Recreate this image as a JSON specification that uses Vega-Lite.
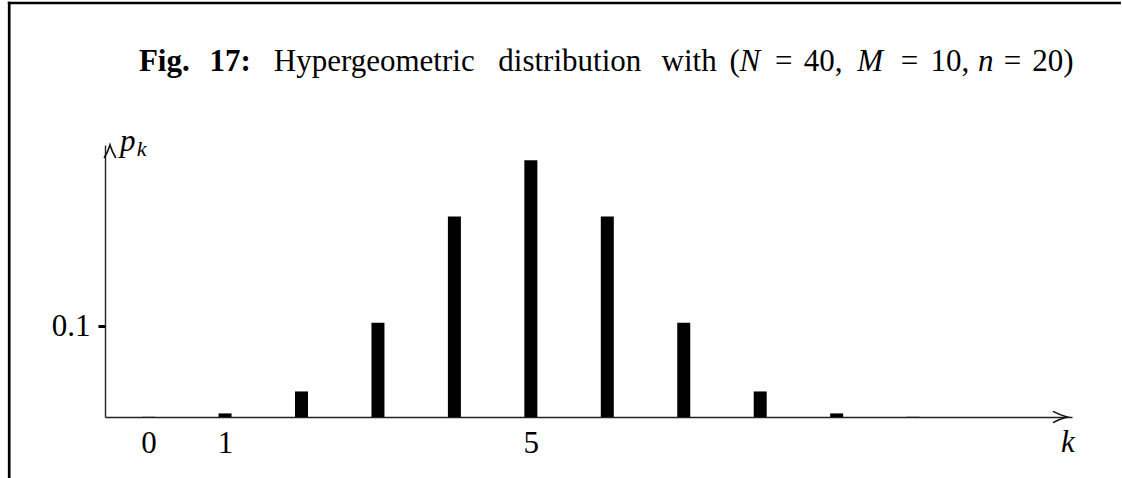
{
  "$schema": "https://vega.github.io/schema/vega-lite/v6.json",
  "width": 967,
  "height": 272,
  "autosize": {"type": "none"},
  "padding": {"left": 105, "top": 145, "right": 50, "bottom": 61},
  "background": "white",
  "config": {"view": {"stroke": null}, "font": "Liberation Serif"},
  "data": {
    "values": [
      {"k": 0, "p": 0.000218},
      {"k": 1, "p": 0.003963},
      {"k": 2, "p": 0.028236},
      {"k": 3, "p": 0.104255},
      {"k": 4, "p": 0.221543},
      {"k": 5, "p": 0.283574},
      {"k": 6, "p": 0.221543},
      {"k": 7, "p": 0.104255},
      {"k": 8, "p": 0.028236},
      {"k": 9, "p": 0.003963},
      {"k": 10, "p": 0.000218}
    ]
  },
  "layer": [
    {
      "mark": {"type": "bar", "size": 13, "color": "black"},
      "encoding": {
        "x": {
          "field": "k", "type": "quantitative",
          "scale": {"domain": [-0.5049, 12.013], "nice": false, "zero": false},
          "axis": {
            "values": [0, 1, 5], "format": "d", "title": null, "ticks": false, "tickSize": 0, "grid": false,
            "domainColor": "#222", "domainWidth": 1.4,
            "labelFont": "Liberation Serif", "labelFontSize": 31, "labelColor": "black",
            "labelBaseline": "alphabetic", "labelPadding": 35, "labelAlign": "center",
            "labelFlush": false, "labelOverlap": false
          }
        },
        "y": {
          "field": "p", "type": "quantitative",
          "scale": {"domain": [0, 0.30055], "nice": false, "zero": false},
          "axis": {
            "values": [0.1], "format": ".1f", "title": null, "tickSize": 7, "tickWidth": 3, "tickColor": "black",
            "grid": false, "domainColor": "#222", "domainWidth": 1.4,
            "labelFont": "Liberation Serif", "labelFontSize": 31, "labelColor": "black",
            "labelPadding": 8, "labelBaseline": "middle", "labelFlush": false
          }
        }
      }
    },
    {
      "data": {"values": [{}]},
      "mark": {"type": "point", "shape": "M -1 -0.4 Q -0.45 -0.12 0 0 Q -0.45 0.12 -1 0.4", "size": 784, "filled": false, "stroke": "#111", "strokeWidth": 1.6, "opacity": 1},
      "encoding": {"x": {"datum": 12.013}, "y": {"datum": 0}}
    },
    {
      "data": {"values": [{}]},
      "mark": {"type": "point", "shape": "M -1 -0.45 Q -0.45 -0.13 0 0 Q -0.45 0.13 -1 0.45", "size": 676, "filled": false, "stroke": "#111", "strokeWidth": 1.6, "opacity": 1, "angle": -90},
      "encoding": {"x": {"datum": -0.5049}, "y": {"datum": 0.30055}}
    },
    {
      "data": {"values": [{}]},
      "mark": {"type": "rule", "color": "black", "strokeWidth": 2.7, "strokeCap": "square"},
      "encoding": {"x": {"datum": -1.8233}, "x2": {"datum": 12.7}, "y": {"datum": 0.45746}}
    },
    {
      "data": {"values": [{}]},
      "mark": {"type": "rule", "color": "black", "strokeWidth": 2.7, "strokeCap": "square"},
      "encoding": {"x": {"datum": -1.8233}, "y": {"datum": 0.45746}, "y2": {"datum": -0.08}}
    },
    {
      "data": {"values": [{}]},
      "mark": {"type": "text", "text": "Fig.", "fontSize": 31, "fontWeight": "bold", "align": "center", "baseline": "alphabetic", "color": "black"},
      "encoding": {"x": {"datum": 0.2058}, "y": {"datum": 0.38177}}
    },
    {
      "data": {"values": [{}]},
      "mark": {"type": "text", "text": "17:", "fontSize": 31, "fontWeight": "bold", "align": "center", "baseline": "alphabetic", "color": "black"},
      "encoding": {"x": {"datum": 1.0679}, "y": {"datum": 0.38177}}
    },
    {
      "data": {"values": [{}]},
      "mark": {"type": "text", "text": "Hypergeometric", "fontSize": 31, "align": "center", "baseline": "alphabetic", "color": "black"},
      "encoding": {"x": {"datum": 2.9514}, "y": {"datum": 0.38177}}
    },
    {
      "data": {"values": [{}]},
      "mark": {"type": "text", "text": "distribution", "fontSize": 31, "align": "center", "baseline": "alphabetic", "color": "black"},
      "encoding": {"x": {"datum": 5.5093}, "y": {"datum": 0.38177}}
    },
    {
      "data": {"values": [{}]},
      "mark": {"type": "text", "text": "with", "fontSize": 31, "align": "center", "baseline": "alphabetic", "color": "black"},
      "encoding": {"x": {"datum": 7.0705}, "y": {"datum": 0.38177}}
    },
    {
      "data": {"values": [{}]},
      "mark": {"type": "text", "text": "(", "fontSize": 31, "align": "left", "baseline": "alphabetic", "color": "black"},
      "encoding": {"x": {"datum": 7.5987}, "y": {"datum": 0.38177}}
    },
    {
      "data": {"values": [{}]},
      "mark": {"type": "text", "text": "N", "fontSize": 31, "fontStyle": "italic", "align": "left", "baseline": "alphabetic", "color": "black"},
      "encoding": {"x": {"datum": 7.7281}, "y": {"datum": 0.38177}}
    },
    {
      "data": {"values": [{}]},
      "mark": {"type": "text", "text": "=", "fontSize": 31, "align": "left", "baseline": "alphabetic", "color": "black"},
      "encoding": {"x": {"datum": 8.1941}, "y": {"datum": 0.38177}}
    },
    {
      "data": {"values": [{}]},
      "mark": {"type": "text", "text": "40,", "fontSize": 31, "align": "left", "baseline": "alphabetic", "color": "black"},
      "encoding": {"x": {"datum": 8.5695}, "y": {"datum": 0.38177}}
    },
    {
      "data": {"values": [{}]},
      "mark": {"type": "text", "text": "M", "fontSize": 31, "fontStyle": "italic", "align": "left", "baseline": "alphabetic", "color": "black"},
      "encoding": {"x": {"datum": 9.2686}, "y": {"datum": 0.38177}}
    },
    {
      "data": {"values": [{}]},
      "mark": {"type": "text", "text": "=", "fontSize": 31, "align": "left", "baseline": "alphabetic", "color": "black"},
      "encoding": {"x": {"datum": 9.8381}, "y": {"datum": 0.38177}}
    },
    {
      "data": {"values": [{}]},
      "mark": {"type": "text", "text": "10,", "fontSize": 31, "align": "left", "baseline": "alphabetic", "color": "black"},
      "encoding": {"x": {"datum": 10.2265}, "y": {"datum": 0.38177}}
    },
    {
      "data": {"values": [{}]},
      "mark": {"type": "text", "text": "n", "fontSize": 31, "fontStyle": "italic", "align": "left", "baseline": "alphabetic", "color": "black"},
      "encoding": {"x": {"datum": 10.8479}, "y": {"datum": 0.38177}}
    },
    {
      "data": {"values": [{}]},
      "mark": {"type": "text", "text": "=", "fontSize": 31, "align": "left", "baseline": "alphabetic", "color": "black"},
      "encoding": {"x": {"datum": 11.1844}, "y": {"datum": 0.38177}}
    },
    {
      "data": {"values": [{}]},
      "mark": {"type": "text", "text": "20)", "fontSize": 31, "align": "left", "baseline": "alphabetic", "color": "black"},
      "encoding": {"x": {"datum": 11.5598}, "y": {"datum": 0.38177}}
    },
    {
      "data": {"values": [{}]},
      "mark": {"type": "text", "text": "p", "fontSize": 31, "fontStyle": "italic", "align": "left", "baseline": "alphabetic", "color": "black"},
      "encoding": {"x": {"datum": -0.3755}, "y": {"datum": 0.29392}}
    },
    {
      "data": {"values": [{}]},
      "mark": {"type": "text", "text": "k", "fontSize": 22, "fontStyle": "italic", "align": "left", "baseline": "alphabetic", "color": "black"},
      "encoding": {"x": {"datum": -0.1554}, "y": {"datum": 0.2884}}
    },
    {
      "data": {"values": [{}]},
      "mark": {"type": "text", "text": "k", "fontSize": 31, "fontStyle": "italic", "align": "left", "baseline": "alphabetic", "color": "black"},
      "encoding": {"x": {"datum": 11.9353}, "y": {"datum": -0.03867}}
    }
  ]
}
